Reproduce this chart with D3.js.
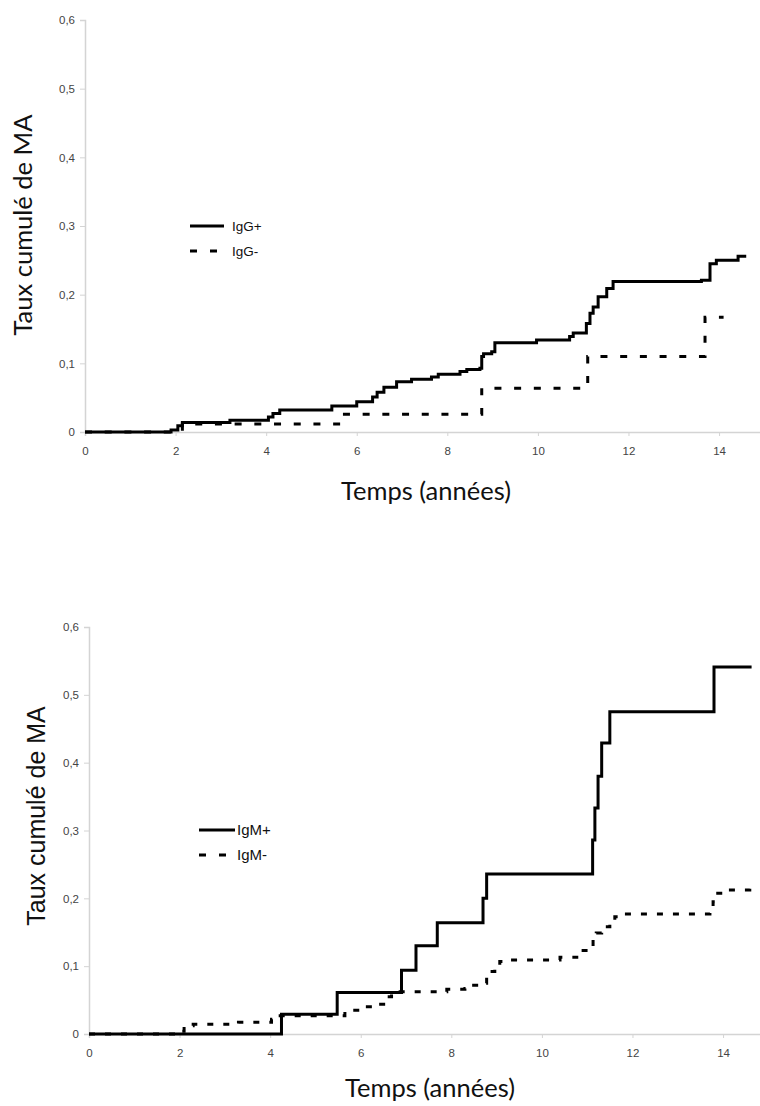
<!DOCTYPE html>
<html>
<head>
<meta charset="utf-8">
<script src="https://cdn.jsdelivr.net/npm/d3@7"></script>
<style>
  body { margin: 0; background: #fff; }
  svg { display: block; }
</style>
</head>
<body>
<svg id="svg"></svg>
<script>
const width = 760;
const height = 1106;

// IgG chart (top)
const igGPlusTime = [0, 1.9, 2.05, 2.15, 3.2, 4.05, 4.15, 4.3, 5.45, 6.0, 6.35, 6.45, 6.6, 6.88, 7.21, 7.65, 7.8, 8.28, 8.43, 8.72, 8.76, 8.8, 8.98, 9.05, 9.97, 10.7, 10.78, 11.07, 11.15, 11.22, 11.33, 11.52, 11.66, 13.61, 13.8, 13.94, 14.42, 14.6];
const igGPlusRate = [0, 0.003, 0.009, 0.014, 0.017, 0.022, 0.027, 0.032, 0.038, 0.044, 0.051, 0.058, 0.065, 0.073, 0.077, 0.08, 0.084, 0.088, 0.091, 0.093, 0.11, 0.114, 0.117, 0.13, 0.134, 0.139, 0.144, 0.158, 0.173, 0.182, 0.197, 0.209, 0.219, 0.221, 0.245, 0.25, 0.256, 0.256];
const igGMinusTime = [0, 2.15, 5.6, 8.76, 11.1, 13.69, 14.1];
const igGMinusRate = [0, 0.0116, 0.026, 0.0636, 0.11, 0.167, 0.167];

// IgM chart (bottom)
const igMPlusTime = [0, 4.25, 5.48, 6.9, 7.22, 7.69, 8.7, 8.78, 11.12, 11.17, 11.24, 11.32, 11.5, 13.8, 14.63];
const igMPlusRate = [0, 0.029, 0.061, 0.094, 0.13, 0.164, 0.2, 0.236, 0.286, 0.333, 0.38, 0.429, 0.475, 0.541, 0.541];
const igMMinusTime = [0, 2.0, 2.1, 2.2, 2.3, 3.3, 4.03, 4.12, 5.65, 6.02, 6.35, 6.57, 6.68, 6.87, 7.9, 8.3, 8.37, 8.74, 8.78, 8.85, 8.96, 9.07, 9.26, 10.4, 10.77, 10.91, 11.1, 11.13, 11.2, 11.32, 11.5, 11.61, 11.8, 13.64, 13.71, 13.78, 13.82, 14.0, 14.4, 14.59, 14.65];
const igMMinusRate = [0, 0.004, 0.008, 0.012, 0.0143, 0.0172, 0.0217, 0.027, 0.035, 0.04, 0.044, 0.055, 0.06, 0.0624, 0.066, 0.067, 0.072, 0.075, 0.085, 0.092, 0.099, 0.107, 0.109, 0.113, 0.1165, 0.123, 0.126, 0.144, 0.149, 0.158, 0.162, 0.173, 0.177, 0.177, 0.185, 0.195, 0.2075, 0.2124, 0.2124, 0.217, 0.217];

const xTicks = [0, 2, 4, 6, 8, 10, 12, 14];
const yTicks = [0, 0.1, 0.2, 0.3, 0.4, 0.5, 0.6];
const xTitle = "Temps (années)";
const yTitle = "Taux cumulé de MA";

let svg = d3.select("#svg")
    .attr("width", width)
    .attr("height", height)
    .attr("viewBox", [0, 0, width, height]);

const fmt = d => d === 0 ? "0" : d3.format(".1f")(d).replace(".", ",");

function drawChart(cfg) {
    let xScale = d3.scaleLinear()
        .domain([0, 15])
        .range([cfg.left, cfg.left + 15 * cfg.pxPerYear]);

    let yScale = d3.scaleLinear()
        .domain([0, 0.6])
        .range([cfg.bottom, cfg.top]);

    let g = svg.append("g");

    // x axis
    let xAxis = g.append("g")
        .attr("transform", `translate(0, ${cfg.bottom})`)
        .call(d3.axisBottom(xScale).tickValues(xTicks).tickSize(4).tickPadding(11).tickFormat(d => d));
    xAxis.select(".domain").attr("stroke", "#d4d4d4").attr("stroke-width", 1.5);
    xAxis.selectAll(".tick line").attr("stroke", "#d4d4d4");
    xAxis.selectAll("text")
        .attr("fill", "#444")
        .attr("font-family", "Liberation Sans, Arial, sans-serif")
        .attr("font-size", "11.5px");

    // y axis
    let yAxis = g.append("g")
        .attr("transform", `translate(${cfg.left}, 0)`)
        .call(d3.axisLeft(yScale).tickValues(yTicks).tickSize(5).tickPadding(5).tickFormat(fmt));
    yAxis.select(".domain").attr("stroke", "#d4d4d4").attr("stroke-width", 1.5);
    yAxis.selectAll(".tick line").attr("stroke", "#d4d4d4");
    yAxis.selectAll("text")
        .attr("fill", "#444")
        .attr("font-family", "Liberation Sans, Arial, sans-serif")
        .attr("font-size", "11.5px");

    let line = d3.line()
        .x(d => xScale(d[0]))
        .y(d => yScale(d[1]))
        .curve(d3.curveStepAfter);

    // dashed (negative) series first, solid on top
    g.append("path")
        .datum(d3.zip(cfg.minusTime, cfg.minusRate))
        .attr("d", line)
        .attr("fill", "none")
        .attr("stroke", "#000")
        .attr("stroke-width", 3)
        .attr("stroke-dasharray", cfg.dash);

    g.append("path")
        .datum(d3.zip(cfg.plusTime, cfg.plusRate))
        .attr("d", line)
        .attr("fill", "none")
        .attr("stroke", "#000")
        .attr("stroke-width", 3);

    // legend
    let leg = g.append("g").attr("transform", `translate(${cfg.legX}, ${cfg.legY})`);
    leg.append("line")
        .attr("x1", 0).attr("x2", cfg.legLen)
        .attr("y1", 0).attr("y2", 0)
        .attr("stroke", "#000").attr("stroke-width", 3);
    leg.append("line")
        .attr("x1", 0).attr("x2", cfg.legLen)
        .attr("y1", 25).attr("y2", 25)
        .attr("stroke", "#000").attr("stroke-width", 3)
        .attr("stroke-dasharray", "7,13");
    leg.selectAll(".leg-text")
        .data(cfg.names)
        .enter()
        .append("text")
            .attr("class", "leg-text")
            .text(d => d)
            .attr("x", cfg.legLen + cfg.legGap)
            .attr("y", (d, i) => i * 25)
            .attr("dy", "0.36em")
            .attr("font-family", "Liberation Sans, Arial, sans-serif")
            .attr("font-size", cfg.legFont)
            .attr("fill", "#111");

    // axis titles
    svg.append("text")
        .text(xTitle)
        .attr("x", cfg.xTitleX)
        .attr("y", cfg.xTitleY)
        .attr("text-anchor", "middle")
        .attr("font-family", "Lato, sans-serif")
        .attr("font-size", "25.5px")
        .attr("fill", "#111");

    svg.append("text")
        .text(yTitle)
        .attr("transform", "rotate(-90)")
        .attr("x", -cfg.yTitleY)
        .attr("y", cfg.yTitleX)
        .attr("text-anchor", "middle")
        .attr("font-family", cfg.yTitleFont)
        .attr("font-size", cfg.yTitleSize)
        .attr("fill", "#111");
}

drawChart({
    left: 85, pxPerYear: 45.29, top: 20, bottom: 432,
    plusTime: igGPlusTime, plusRate: igGPlusRate,
    minusTime: igGMinusTime, minusRate: igGMinusRate,
    dash: "7,12.7",
    names: ["IgG+", "IgG-"],
    legX: 190, legY: 226, legLen: 34, legGap: 8, legFont: "13.5px",
    xTitleX: 426, xTitleY: 500,
    yTitleX: 32, yTitleY: 225, yTitleFont: "Lato, sans-serif", yTitleSize: "25.5px"
});

drawChart({
    left: 89, pxPerYear: 45.29, top: 627, bottom: 1034,
    plusTime: igMPlusTime, plusRate: igMPlusRate,
    minusTime: igMMinusTime, minusRate: igMMinusRate,
    dash: "6,10",
    names: ["IgM+", "IgM-"],
    legX: 199, legY: 830, legLen: 36, legGap: 2, legFont: "15px",
    xTitleX: 430, xTitleY: 1097,
    yTitleX: 45, yTitleY: 816, yTitleFont: "Liberation Sans, Arial, sans-serif", yTitleSize: "25px"
});

svg.node();
</script>
</body>
</html>
